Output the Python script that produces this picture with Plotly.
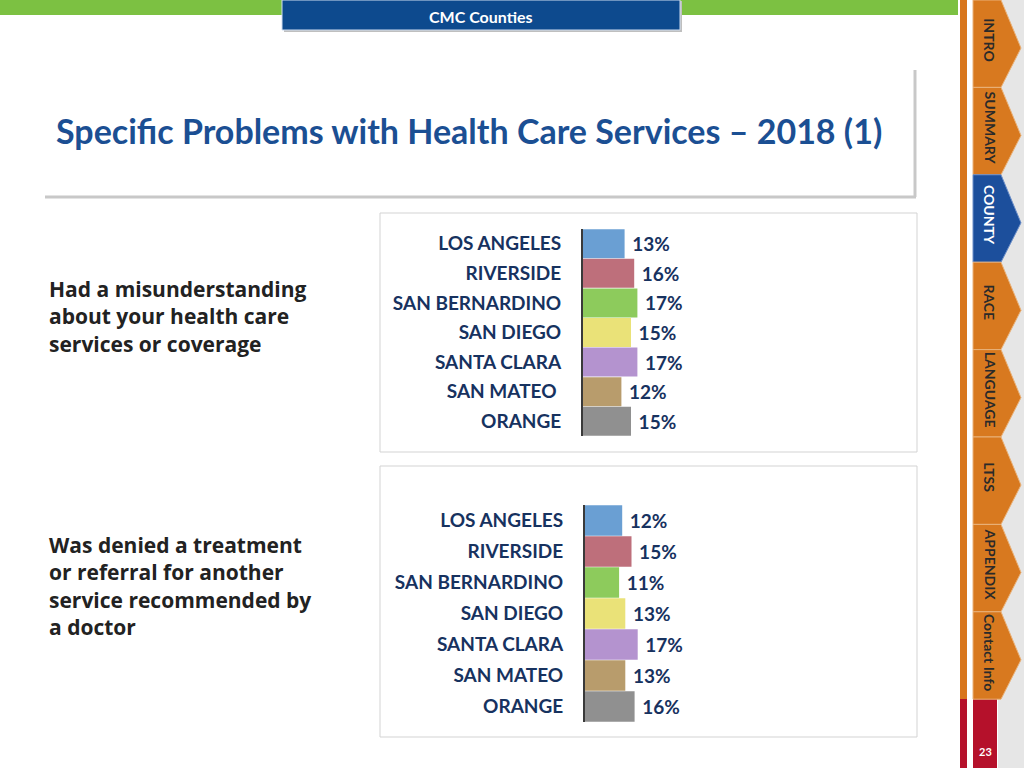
import plotly.graph_objects as go

counties_1 = ["LOS ANGELES", "RIVERSIDE", "SAN BERNARDINO", "SAN DIEGO", "SANTA CLARA", "SAN MATEO ", "ORANGE"]
counties_2 = ["LOS ANGELES", "RIVERSIDE", "SAN BERNARDINO", "SAN DIEGO", "SANTA CLARA", "SAN MATEO", "ORANGE"]
misunderstanding = [13, 16, 17, 15, 17, 12, 15]
denied = [12, 15, 11, 13, 17, 13, 16]
bar_colors = ["#6A9FD3", "#BE6F7B", "#8DCB5C", "#EAE278", "#B493CF", "#B89C6C", "#909090"]
question1 = ["Had a misunderstanding", "about your health care", "services or coverage"]
question2 = ["Was denied a treatment", "or referral for another", "service recommended by", "a doctor"]
title_text = "Specific Problems with Health Care Services – 2018 (1)"
tabs = ["INTRO", "SUMMARY", "COUNTY", "RACE", "LANGUAGE", "LTSS", "APPENDIX", "Contact Info"]
active_tab = "COUNTY"
page_number = "23"

W, H = 1024, 768
def px(x): return x / W
def py(y): return 1 - y / H

NAVY = "#17325F"
FONT = "Lato"

fig = go.Figure()

def add_bars(cats, vals, xa, ya):
    fig.add_trace(go.Bar(
        x=vals, y=cats, orientation="h",
        marker=dict(color=bar_colors, line=dict(width=0)),
        text=["\u00a0" + f"{v}%" for v in vals], textposition="outside",
        textfont=dict(family=FONT, size=19, color=NAVY, weight="bold"),
        cliponaxis=False, xaxis=xa, yaxis=ya, showlegend=False, hoverinfo="skip"))

add_bars(counties_1, misunderstanding, "x", "y")
add_bars(counties_2, denied, "x2", "y2")

shapes = []
annotations = []

# chart boxes
shapes.append(dict(type="rect", xref="paper", yref="paper", x0=px(380), x1=px(917), y0=py(213), y1=py(452),
                   line=dict(color="#D3D3D3", width=1), fillcolor="rgba(0,0,0,0)", layer="below"))
shapes.append(dict(type="rect", xref="paper", yref="paper", x0=px(380), x1=px(917), y0=py(466), y1=py(737),
                   line=dict(color="#D3D3D3", width=1), fillcolor="rgba(0,0,0,0)", layer="below"))

# title card shadow
shapes.append(dict(type="line", xref="paper", yref="paper", x0=px(45), x1=px(916), y0=py(197), y1=py(197),
                   line=dict(color="#C8C8C8", width=3), layer="below"))
shapes.append(dict(type="line", xref="paper", yref="paper", x0=px(915), x1=px(915), y0=py(70), y1=py(197),
                   line=dict(color="#C8C8C8", width=3), layer="below"))

# top bar
shapes.append(dict(type="rect", xref="paper", yref="paper", x0=0, x1=px(958), y0=py(15), y1=1,
                   line=dict(width=0), fillcolor="#7CC142", layer="below"))
shapes.append(dict(type="rect", xref="paper", yref="paper", x0=px(284), x1=px(682), y0=py(32), y1=py(1),
                   line=dict(width=0), fillcolor="#BFBFBF", layer="below"))
shapes.append(dict(type="rect", xref="paper", yref="paper", x0=px(282), x1=px(680), y0=py(30), y1=1,
                   line=dict(color="#D0DDF0", width=1), fillcolor="#0D4A8E", layer="below"))
annotations.append(dict(text="CMC Counties", x=px(481), y=py(16), xref="paper", yref="paper",
                        xanchor="center", yanchor="middle",
                        showarrow=False, font=dict(family=FONT, size=16, color="white", weight="bold")))

# sidebar
shapes.append(dict(type="rect", xref="paper", yref="paper", x0=px(998), x1=1, y0=0, y1=1,
                   line=dict(width=0), fillcolor="#E6E6E6", layer="below"))
shapes.append(dict(type="rect", xref="paper", yref="paper", x0=px(960), x1=px(967), y0=py(699), y1=1,
                   line=dict(width=0), fillcolor="#D8761C", layer="below"))
shapes.append(dict(type="rect", xref="paper", yref="paper", x0=px(960), x1=px(967), y0=0, y1=py(699),
                   line=dict(width=0), fillcolor="#B5112B", layer="below"))
shapes.append(dict(type="rect", xref="paper", yref="paper", x0=px(973), x1=px(997), y0=0, y1=py(699),
                   line=dict(width=0), fillcolor="#B5112B", layer="below"))
tab_h = 87.4
for i, name in enumerate(tabs):
    y0 = i * tab_h
    y1 = y0 + tab_h
    col = "#1C4F9C" if name == active_tab else "#D8791F"
    pts = [(973, y0), (1001, y0), (1021, y0 + tab_h * 0.55), (1001, y1), (973, y1)]
    path = "M " + " L ".join(f"{px(a):.5f},{py(b):.5f}" for a, b in pts) + " Z"
    shapes.append(dict(type="path", xref="paper", yref="paper", path=path, fillcolor=col,
                       line=dict(color="#E9B27A" if name != active_tab else "#6C8FC8", width=1), layer="below"))
    annotations.append(dict(text=name, x=px(990), y=py(y0 + tab_h * 0.46), xref="paper", yref="paper",
                            xanchor="center", yanchor="middle",
                            showarrow=False, textangle=90,
                            font=dict(family=FONT, size=14, weight="bold",
                                      color="white" if name == active_tab else "#2A2A2A")))
annotations.append(dict(text=page_number, x=px(985), y=py(751), xref="paper", yref="paper",
                        xanchor="center", yanchor="middle",
                        showarrow=False, font=dict(family=FONT, size=11, color="white", weight="bold")))

# title
annotations.append(dict(text=title_text, x=px(54), y=py(131), xref="paper", yref="paper",
                        xanchor="left", yanchor="middle", showarrow=False,
                        font=dict(family=FONT, size=34, color="#1B4F93", weight="bold")))

# questions
for lines, ystart in ((question1, 288), (question2, 544)):
    annotations.append(dict(text="<br>".join(lines), x=px(47), y=py(ystart - 15), xref="paper", yref="paper",
                            xanchor="left", yanchor="top", align="left", showarrow=False,
                            font=dict(family="Open Sans", size=21, color="#222222", weight="bold")))

yaxis_common = dict(autorange="reversed", showgrid=False, zeroline=False, showline=True,
                    linecolor="#3A3A3A", linewidth=2, ticks="", ticklabelstandoff=16,
                    tickfont=dict(family=FONT, size=19, color=NAVY, weight="bold"))
xaxis_common = dict(range=[0, 25], visible=False, showgrid=False, zeroline=False)

fig.update_layout(
    width=W, height=H, margin=dict(l=0, r=0, t=0, b=0),
    paper_bgcolor="white", plot_bgcolor="rgba(0,0,0,0)",
    bargap=0.02,
    xaxis=dict(domain=[px(583), px(663)], anchor="y", **xaxis_common),
    yaxis=dict(domain=[py(436), py(229)], anchor="x", **yaxis_common),
    xaxis2=dict(domain=[px(585), px(662.5)], anchor="y2", **xaxis_common),
    yaxis2=dict(domain=[py(722), py(505)], anchor="x2", **yaxis_common),
    shapes=shapes, annotations=annotations,
)

fig.write_html("out.html", config={"displayModeBar": False},
               post_script="document.body.style.margin='0';")
